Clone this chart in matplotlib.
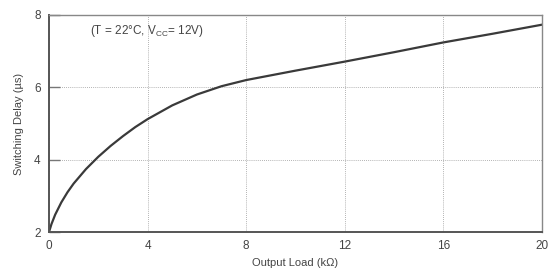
import matplotlib
matplotlib.use('Agg')
import matplotlib.pyplot as plt

plt.rcParams['font.family'] = ['Liberation Sans', 'DejaVu Sans']
plt.rcParams['mathtext.fontset'] = 'custom'
plt.rcParams['mathtext.rm'] = 'Liberation Sans'

# values
load_kohm = [0, 0.1, 0.25, 0.5, 0.75, 1.0, 1.5, 2.0, 2.5, 3.0, 3.5, 4.0, 5.0, 6.0, 7.0, 8.0,
             10.0, 12.0, 14.0, 16.0, 18.0, 20.0]
delay_us = [2.0, 2.22, 2.48, 2.82, 3.1, 3.34, 3.74, 4.08, 4.38, 4.65, 4.9, 5.12, 5.5, 5.8, 6.03, 6.2,
            6.46, 6.71, 6.97, 7.24, 7.48, 7.73]

x_ticks = [0, 4, 8, 12, 16, 20]
y_ticks = [2, 4, 6, 8]

fig = plt.figure(figsize=(5.52, 2.69), dpi=100)
ax = fig.add_axes([0.0888, 0.1375, 0.893, 0.807])

ax.plot(load_kohm, delay_us, color='#3a3a3a', linewidth=1.6)

ax.set_xlim(0, 20)
ax.set_ylim(2, 8)
ax.set_xticks(x_ticks)
ax.set_yticks(y_ticks)
ax.grid(True, linestyle=(0, (1, 1.5)), color='#9a9a9a', linewidth=0.6)
ax.tick_params(axis='both', direction='in', length=0, labelsize=8.5, colors='#444444', pad=6)
ax.tick_params(axis='y', length=8, width=1, color='#777777')

for side in ['left', 'bottom']:
    ax.spines[side].set_color('#555555')
    ax.spines[side].set_linewidth(1.4)
for side in ['top', 'right']:
    ax.spines[side].set_color('#888888')
    ax.spines[side].set_linewidth(1.0)

ax.set_xlabel('Output Load (k\u03a9)', fontsize=8, color='#444444', labelpad=4)
ax.set_ylabel('Switching Delay (\u00b5s)', fontsize=8, color='#444444', labelpad=7)

ax.text(1.65, 7.55, '(T = 22\u00b0C, V$_{\\mathrm{CC}}$= 12V)', fontsize=8.5, color='#444444',
        va='center', ha='left')

fig.savefig('out.png', dpi=100)
